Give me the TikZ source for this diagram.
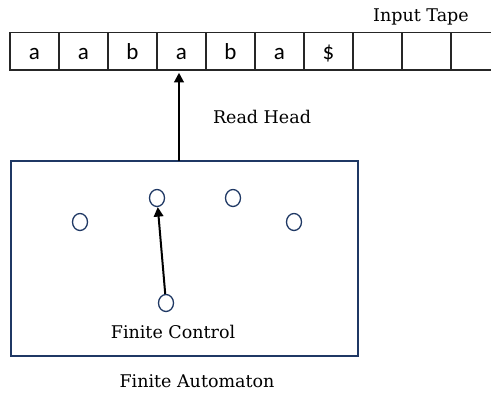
\documentclass[tikz,border=0pt]{standalone}
\usepackage{fontspec}
\setmainfont{DejaVu Serif}
\newfontfamily\tapefont{Carlito}
\usetikzlibrary{arrows.meta,shapes.geometric}
\definecolor{navy}{HTML}{1F3864}
\definecolor{tapeline}{HTML}{262626}
\tikzset{
  cell/.style={draw=tapeline, line width=1.5pt, minimum width=49pt, minimum height=37.5pt,
    inner sep=0pt},
  sym/.style={anchor=base, inner sep=0pt, font=\tapefont\fontsize{23}{23}\selectfont},
  state/.style={ellipse, draw=navy, line width=1.3pt, minimum width=15pt, minimum height=17pt, inner sep=0pt},
  lbl/.style={font=\fontsize{17.5}{17.5}\selectfont, inner sep=0pt},
  link/.style={draw=black, line width=2pt, -{Triangle[length=9.5pt,width=9.5pt]}}
}
\begin{document}
\begin{tikzpicture}[x=1pt,y=-1pt]
\useasboundingbox (0,0) rectangle (491,392);
\clip (0,0) rectangle (491,392);
% input tape
\foreach \s [count=\i from 0] in {a,a,b,a,b,a,\$,{},{},{}} {
  \node[cell] (c\i) at ({34.5+49*\i},51.25) {};
  \node[sym] (t\i) at (c\i.center |- 0,59.5) {\s};
}
\node[lbl] (tape) at (421,17) {Input Tape};
% finite control box
\node[draw=navy, line width=2.2pt, minimum width=347pt, minimum height=195pt, inner sep=0pt] (fa) at (184.5,258.5) {};
\coordinate (head) at (179,161);
\draw[link, shorten >=2pt] (head) -- (head |- c3.south);
\node[lbl] (read) at (262,117) {Read Head};
% states
\node[state] (s1) at (80,222) {};
\node[state] (s2) at (157,198) {};
\node[state] (s3) at (233,198) {};
\node[state] (s4) at (294,222) {};
\node[state] (s5) at (166,303) {};
\draw[link] (s5) -- (s2);
\node[lbl] (ctrl) at (173,332) {Finite Control};
\node[lbl] (auto) at (197,381) {Finite Automaton};
\end{tikzpicture}
\end{document}
